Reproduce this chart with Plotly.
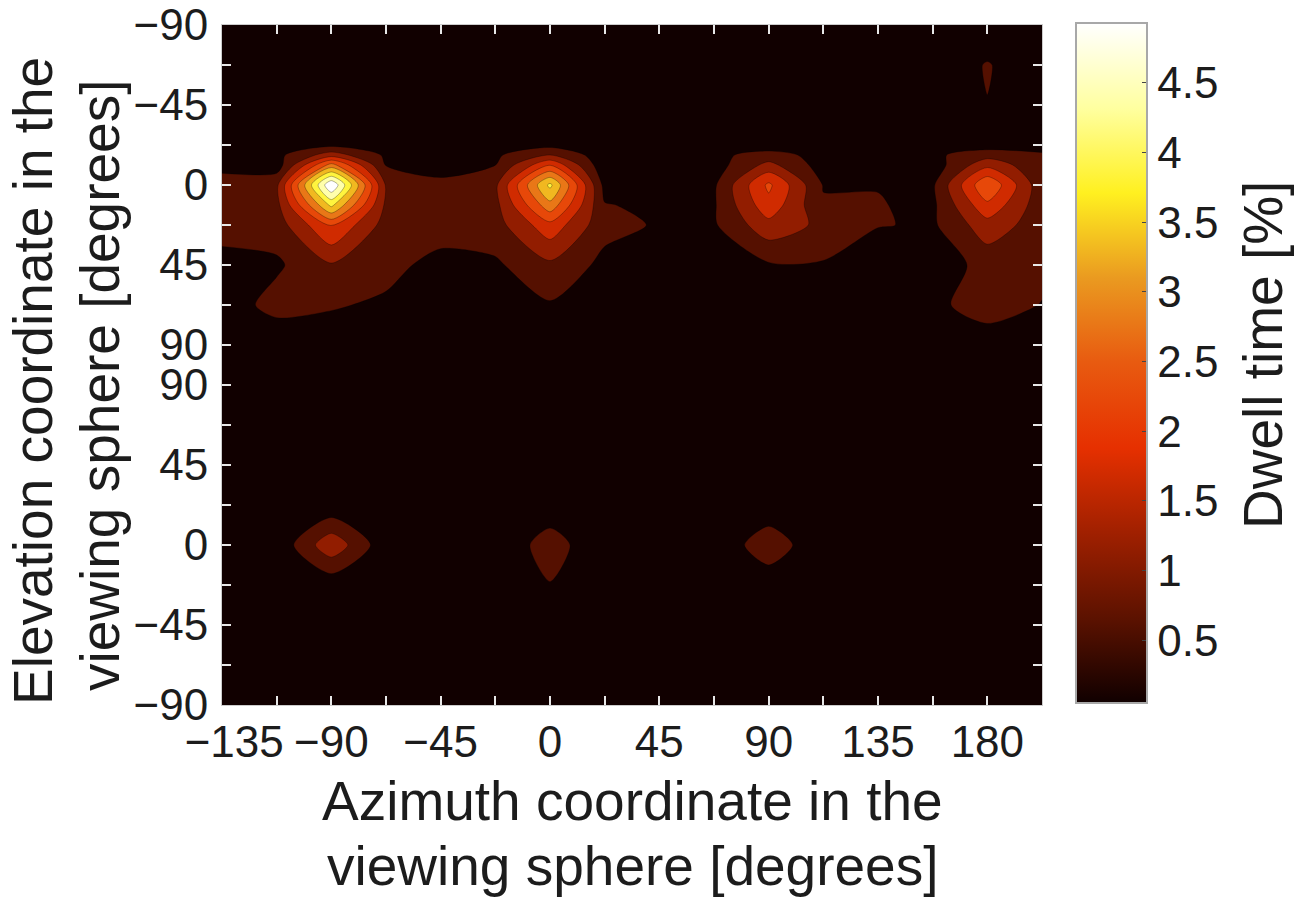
"""Dwell time over two stacked viewing spheres, filled contour with hot colours."""
import plotly.graph_objects as go

FONT = "Liberation Sans"
TEXT = "#1c1c1c"

azimuth = [-135, -112.5, -90, -67.5, -45, -22.5, 0, 22.5, 45, 67.5, 90, 112.5, 135, 157.5, 180, 202.5]
# the two spheres are stacked on one axis, one grid step apart
# 73.125, 78.75 and 101.25 are extra rows read off the shape of the lobes
stack_pos = [0, 22.5, 45, 67.5, 73.125, 78.75, 90, 101.25, 112.5, 135, 157.5, 180, 202.5, 225, 247.5, 270, 292.5, 315, 337.5, 360, 382.5]

azimuth_ticks = azimuth
azimuth_labels = ["\u00a0\u00a0−135", "", "−90", "", "−45", "", "0", "", "45", "", "90", "", "135", "", "180", ""]
elevation_ticks = [0, 22.5, 45, 67.5, 90, 112.5, 135, 157.5, 180, 202.5, 225, 247.5, 270, 292.5, 315, 337.5, 360, 382.5]
elevation_labels = ["−90", "", "−45", "", "0", "", "45", "", "90", "90", "", "45", "", "0", "", "−45", "", "−90"]
bar_ticks = [0.5, 1, 1.5, 2, 2.5, 3, 3.5, 4, 4.5]
bar_labels = ["0.5", "1", "1.5", "2", "2.5", "3", "3.5", "4", "4.5"]

row_00 = [.12, .12, .12, .12, .12, .12, .12, .12, .12, .12, .12, .12, .12, .12, .10, .12]
row_01 = [.12, .12, .12, .12, .12, .12, .12, .12, .12, .12, .12, .12, .12, .12, .62, .12]
row_02 = [.12, .12, .12, .12, .12, .12, .12, .12, .12, .12, .12, .12, .12, .12, .56, .12]
row_03 = [.20, .25, .45, .30, .25, .30, .42, .15, .12, .20, .30, .25, .12, .18, .33, .50]
row_3a = [.30, .44, 1.3, .50, .30, .50, 1.05, .30, .12, .47, .75, .42, .12, .48, .85, .60]
row_3b = [.45, .31, 2.67, .55, .45, .57, 1.98, .22, .12, .35, 1.20, .35, .12, .31, 1.39, .66]
row_04 = [.75, .95, 4.85, 1.0, .65, .95, 3.55, .42, .15, .50, 2.10, .55, .56, .50, 2.45, .72]
row_4b = [.78, .90, 3.55, .95, .75, .90, 2.80, .60, .48, .52, 1.85, .62, .60, .47, 1.90, .75]
row_05 = [.80, .80, 2.05, .85, .80, .85, 1.85, .72, .53, .52, 1.37, .93, .61, .50, 1.33, .80]
row_06 = [.38, .50, 1.0, .72, .42, .50, .95, .45, .15, .20, .52, .53, .10, .28, .75, .75]
row_07 = [.30, .75, .62, .50, .20, .25, .53, .15, .12, .12, .15, .15, .12, .42, .88, .55]
row_08 = [.12, .20, .30, .15, .12, .12, .20, .12, .12, .12, .12, .12, .12, .12, .22, .15]
row_09 = [.12, .12, .12, .12, .12, .12, .12, .12, .12, .12, .12, .12, .12, .12, .12, .12]
row_10 = [.12, .12, .12, .12, .12, .12, .12, .12, .12, .12, .12, .12, .12, .12, .12, .12]
row_11 = [.12, .12, .12, .12, .12, .12, .12, .12, .12, .12, .12, .12, .12, .12, .12, .12]
row_12 = [.12, .12, .20, .12, .12, .12, .20, .12, .12, .12, .15, .12, .12, .12, .12, .12]
row_13 = [.12, .20, 1.4, .25, .12, .10, .85, .10, .12, .10, .95, .10, .12, .12, .12, .12]
row_14 = [.12, .12, .25, .12, .12, .12, .55, .12, .12, .12, .20, .12, .12, .12, .12, .12]
row_15 = [.12, .12, .12, .12, .12, .12, .12, .12, .12, .12, .12, .12, .12, .12, .12, .12]
row_16 = [.12, .12, .12, .12, .12, .12, .12, .12, .12, .12, .12, .12, .12, .12, .12, .12]
row_17 = [.12, .12, .12, .12, .12, .12, .12, .12, .12, .12, .12, .12, .12, .12, .12, .12]
dwell = [row_00, row_01, row_02, row_03, row_3a, row_3b, row_04, row_4b, row_05, row_06, row_07, row_08,
         row_09, row_10, row_11, row_12, row_13, row_14, row_15, row_16, row_17]

# hot map as it looks after the print colour shift
hot = [
    [0.0, "#100000"], [0.125, "#5c1200"], [0.25, "#a02000"], [0.375, "#e63000"],
    [0.5, "#e85a10"], [0.625, "#ea9a20"], [0.75, "#fff020"], [0.875, "#ffffa0"], [1.0, "#ffffff"],
]

# plot area in page pixels
PLOT_L, PLOT_R, PLOT_T, PLOT_B = 222, 1042, 25, 705
plot_w = PLOT_R - PLOT_L
plot_h = PLOT_B - PLOT_T


def px_x(px):
    return (px - PLOT_L) / plot_w


def px_y(px):
    return 1 - (px - PLOT_T) / plot_h


fig = go.Figure()
# only here for the smooth colour bar, the contour covers it
fig.add_trace(go.Heatmap(
    x=azimuth[:2], y=stack_pos[:2], z=[[0.05, 4.93], [0.05, 4.93]],
    colorscale=hot, zmin=0.05, zmax=4.93, hoverinfo="skip",
    colorbar=dict(
        x=px_x(1076), xanchor="left", xpad=0, y=px_y(363), yanchor="middle", ypad=0,
        thickness=71, thicknessmode="pixels", len=680, lenmode="pixels",
        outlinecolor="#a8a8a8", outlinewidth=2,
        tickmode="array", tickvals=bar_ticks, ticktext=bar_labels,
        ticks="inside", ticklen=6, tickcolor="#444444",
        tickfont=dict(family=FONT, size=44, color=TEXT),
    ),
))
fig.add_trace(go.Contour(
    x=azimuth, y=stack_pos, z=dwell,
    colorscale=hot, zmin=0.33, zmax=4.61, showscale=False,
    autocontour=False,
    contours=dict(start=0.1, end=4.85, size=0.475, coloring="fill"),
    line=dict(color="rgba(0,0,0,0.3)", width=1, smoothing=0.75),
))

fig.update_xaxes(
    range=[-135, 202.5], tickmode="array", tickvals=azimuth_ticks, ticktext=azimuth_labels,
    ticks="inside", ticklen=9, tickcolor="#e8e8e8", tickwidth=1.5, ticklabelstandoff=-2,
    showline=True, linecolor="#cccccc", linewidth=1, mirror="ticks", showgrid=False, zeroline=False,
    tickfont=dict(family=FONT, size=44, color=TEXT),
)
fig.update_yaxes(
    range=[382.5, 0], tickmode="array", tickvals=elevation_ticks, ticktext=elevation_labels,
    ticks="inside", ticklen=9, tickcolor="#e8e8e8", tickwidth=1.5, ticklabelstandoff=4,
    showline=True, linecolor="#cccccc", linewidth=1, mirror="ticks", showgrid=False, zeroline=False,
    tickfont=dict(family=FONT, size=44, color=TEXT),
)

title_font = dict(family=FONT, size=55, color=TEXT)
titles = [
    ("Azimuth coordinate in the", 632, 801, 0),
    ("viewing sphere [degrees]", 632, 866, 0),
    ("Elevation coordinate in the", 33, 381, -90),
    ("viewing sphere [degrees]", 100, 386, -90),
    ("Dwell time [%]", 1263, 355, -90),
]
for text, x, y, angle in titles:
    fig.add_annotation(
        text=text, x=px_x(x), y=px_y(y), xref="paper", yref="paper", showarrow=False,
        textangle=angle, xanchor="center", yanchor="middle", font=title_font,
    )

fig.update_layout(
    width=1311, height=901,
    margin=dict(l=PLOT_L, r=1311 - PLOT_R, t=PLOT_T, b=901 - PLOT_B, autoexpand=False),
    paper_bgcolor="white", plot_bgcolor="#100000", showlegend=False,
)

fig.write_html("out.html", config={"displayModeBar": False}, post_script="document.body.style.margin = '0';")
